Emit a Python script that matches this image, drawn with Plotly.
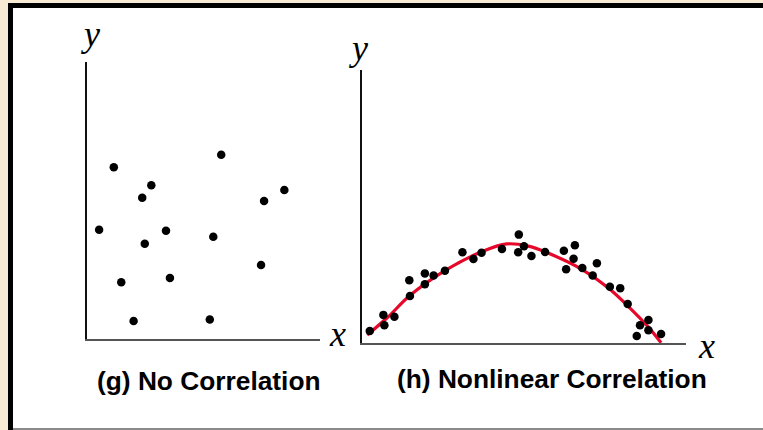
import plotly.graph_objects as go

W, H = 763, 430

# ---- data (arbitrary units 0..10) ----
g_x = [1.15, 5.76, 2.76, 2.37, 8.47, 7.60, 0.52, 3.39, 2.48, 5.42, 7.47, 1.47, 3.56, 2.00, 5.27]
g_y = [6.20, 6.65, 5.55, 5.10, 5.38, 4.98, 3.94, 3.91, 3.44, 3.69, 2.67, 2.05, 2.20, 0.65, 0.70]

h_x = [0.24, 0.66, 0.69, 1.00, 1.46, 1.48, 1.94, 1.94, 2.21, 2.56, 3.10, 3.44, 3.69, 4.32, 4.84, 4.82, 5.00,
       5.23, 5.65, 6.23, 6.57, 6.53, 6.30, 6.80, 7.12, 7.25, 7.65, 7.97, 8.20, 8.58, 8.84, 8.84, 8.48, 9.23]
h_y = [0.44, 1.03, 0.65, 0.96, 2.30, 1.72, 2.55, 2.15, 2.47, 2.65, 3.32, 3.08, 3.31, 3.44, 3.97, 3.32, 3.54,
       3.19, 3.33, 3.38, 3.58, 3.09, 2.70, 2.75, 2.47, 2.92, 2.06, 2.01, 1.43, 0.65, 0.84, 0.47, 0.26, 0.33]

curve_x = [0.16, 0.81, 1.46, 2.56, 3.69, 4.47, 5.13, 5.65, 6.78, 7.65, 8.20, 8.84, 9.23]
curve_y = [0.29, 0.96, 1.72, 2.65, 3.34, 3.63, 3.55, 3.34, 2.70, 1.97, 1.36, 0.58, 0.01]

titles = ["(g) No Correlation", "(h) Nonlinear Correlation"]

# ---- helpers for layout positions (pixels -> paper) ----
def px(x):
    return x / W

def py(y):
    return 1 - y / H

fig = go.Figure()
fig.add_trace(go.Scatter(x=g_x, y=g_y, mode="markers", xaxis="x", yaxis="y",
                         marker=dict(size=8.5, color="black"), cliponaxis=False))
fig.add_trace(go.Scatter(x=curve_x, y=curve_y, mode="lines", xaxis="x2", yaxis="y2",
                         line=dict(color="#e6082a", width=3.2, shape="spline", smoothing=1.0),
                         cliponaxis=False))
fig.add_trace(go.Scatter(x=h_x, y=h_y, mode="markers", xaxis="x2", yaxis="y2",
                         marker=dict(size=8.5, color="black"), cliponaxis=False))

ax_common = dict(showgrid=False, zeroline=False, showticklabels=False, ticks="",
                 fixedrange=True)

fig.update_layout(
    width=W, height=H,
    margin=dict(l=0, r=0, t=0, b=0, pad=0),
    paper_bgcolor="#f7ebd3",
    plot_bgcolor="rgba(0,0,0,0)",
    showlegend=False,
    xaxis=dict(domain=[px(87), px(320)], range=[0, 10], anchor="y",
               showline=True, linecolor="#555555", linewidth=2, **ax_common),
    yaxis=dict(domain=[py(339), py(62)], range=[0, 10], anchor="x",
               showline=True, linecolor="#111111", linewidth=1.5, **ax_common),
    xaxis2=dict(domain=[px(362), px(686)], range=[0, 10], anchor="y2",
                showline=True, linecolor="#555555", linewidth=2, **ax_common),
    yaxis2=dict(domain=[py(343), py(70)], range=[0, 10], anchor="x2",
                showline=True, linecolor="#111111", linewidth=1.5, **ax_common),
)

shapes = [
    # white card
    dict(type="rect", xref="paper", yref="paper", x0=px(13), x1=px(765), y0=py(428), y1=py(8),
         fillcolor="white", line=dict(width=0), layer="below"),
    # top black border
    dict(type="rect", xref="paper", yref="paper", x0=px(8), x1=px(765), y0=py(8), y1=py(3),
         fillcolor="black", line=dict(width=0), layer="below"),
    # left black border
    dict(type="rect", xref="paper", yref="paper", x0=px(8), x1=px(13), y0=py(432), y1=py(3),
         fillcolor="black", line=dict(width=0), layer="below"),
    # bottom grey line
    dict(type="rect", xref="paper", yref="paper", x0=px(13), x1=px(765), y0=py(432), y1=py(428),
         fillcolor="#8a8a8a", line=dict(width=0), layer="below"),
]
fig.update_layout(shapes=shapes)

lab_font = dict(family="Liberation Serif, Times New Roman, serif", size=36, color="black")
ann = []
for (x, y, t) in [(90, 34, "y"), (337, 334, "x"), (358, 48, "y"), (706, 346, "x")]:
    ann.append(dict(xref="paper", yref="paper", x=px(x), y=py(y), text="<i>%s</i>" % t,
                    showarrow=False, xanchor="center", yanchor="middle", font=lab_font))
tfont = dict(family="Liberation Sans, Arial, sans-serif", size=26.3, color="black")
for (x, y, t) in [(209, 381, titles[0]), (552, 379, titles[1])]:
    ann.append(dict(xref="paper", yref="paper", x=px(x), y=py(y), text="<b>%s</b>" % t,
                    showarrow=False, xanchor="center", yanchor="middle", font=tfont))
fig.update_layout(annotations=ann)

fig.write_html("out.html", config={"displayModeBar": False},
               post_script="document.body.style.margin='0';document.body.style.padding='0';"
                           "document.body.style.background='#f7ebd3';")
